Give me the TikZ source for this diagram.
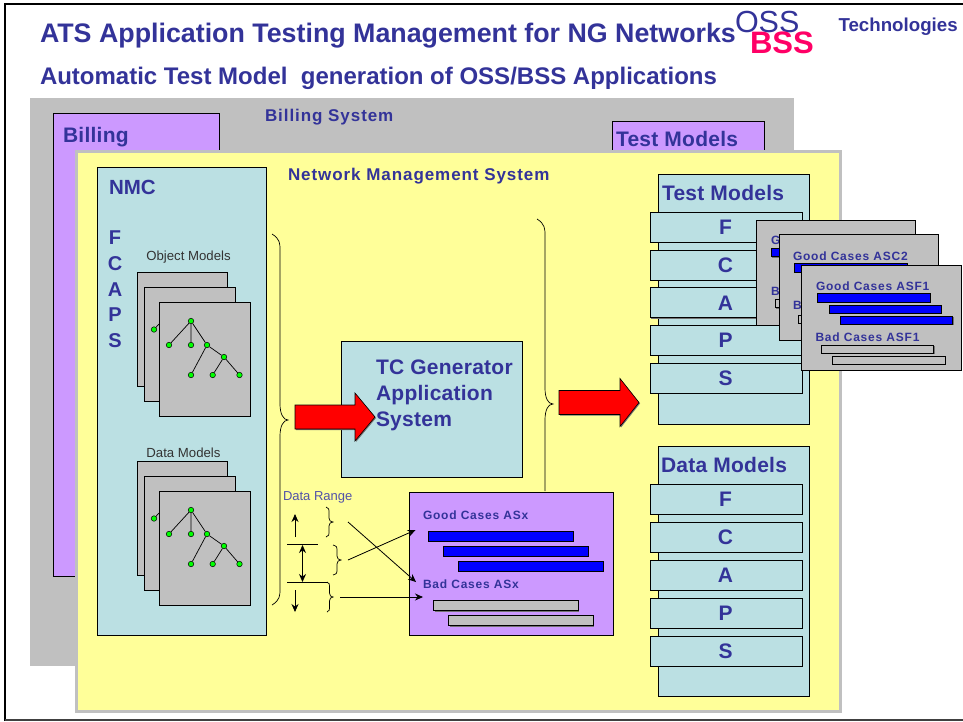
\documentclass[tikz,border=0pt]{standalone}
\usepackage{fontspec}
\setmainfont{Liberation Sans}
\newfontfamily\spc[LetterSpace=6.5]{Liberation Sans}
\newfontfamily\spcb[LetterSpace=1.2]{Liberation Sans}
\newfontfamily\spcm[LetterSpace=5.5]{Liberation Sans}
\usetikzlibrary{arrows.meta,shadows}
\definecolor{ink}{HTML}{333399}
\definecolor{teal}{HTML}{BBE0E3}
\definecolor{lilac}{HTML}{CC99FF}
\definecolor{butter}{HTML}{FFFF99}
\definecolor{sheetgray}{HTML}{C0C0C0}
\definecolor{pinkred}{HTML}{FF0066}
\definecolor{pure}{HTML}{0000FF}
\tikzset{
  shd/.style={drop shadow={shadow xshift=1pt,shadow yshift=-1pt,opacity=1,fill=black!55}},
  bxbase/.style={draw=black,line width=.8pt,inner sep=0pt,outer sep=0pt,anchor=north west},
  tealbox/.style={bxbase,fill=teal,shd},
  lilacbox/.style={bxbase,fill=lilac,shd},
  graybox/.style={bxbase,fill=sheetgray,shd},
  bluebar/.style={bxbase,fill=pure,shd},
  plainpanel/.style={inner sep=0pt,outer sep=0pt,anchor=north west,fill=sheetgray},
  yellowpanel/.style={inner sep=0pt,outer sep=0pt,anchor=north west,fill=butter,draw=sheetgray,line width=3pt},
  txt/.style={inner sep=0pt,outer sep=0pt,anchor=base west,text=ink},
  rowletter/.style={inner sep=0pt,anchor=center,text=ink,font=\fontsize{21}{24}\selectfont\bfseries},
  big/.style={txt,font=\fontsize{21}{24}\selectfont\bfseries\spcb},
  mid/.style={txt,font=\fontsize{17}{20}\selectfont\bfseries\spcm},
  sml/.style={txt,font=\fontsize{12}{14}\selectfont\bfseries\spc},
  leaf/.style={circle,draw=black,fill=green,line width=.5pt,minimum size=5.5pt,inner sep=0pt},
  treeedge/.style={black,line width=.7pt},
  thin arrow/.style={black,line width=.8pt,-{Stealth[length=8pt,width=7pt]}},
  both arrow/.style={black,line width=.8pt,{Stealth[length=8pt,width=7pt]}-{Stealth[length=8pt,width=7pt]}},
  brc/.style={black,line width=.7pt},
  redarrow/.style={draw=black,line width=.6pt,fill=red,shd}
}
\newcommand{\mybx}[6]{\node[#2,minimum width={((#5)-(#3))*1pt},minimum height={((#6)-(#4))*1pt}] (#1) at ({#3},{#4}) {};}
% brace: x-end, y-top, stem, tip, y-mid, y-bottom, radius
\newcommand{\mybrace}[7]{\draw[brc] (#1,#2) .. controls (#3,{#2+#7*.3}) and (#3,{#2+#7*.6}) .. (#3,{#2+#7}) -- (#3,{#5-#7}) .. controls (#3,{#5-#7*.4}) and ({#3+(#4-#3)*.4},#5) .. (#4,#5) .. controls ({#3+(#4-#3)*.4},#5) and (#3,{#5+#7*.4}) .. (#3,{#5+#7}) -- (#3,{#6-#7}) .. controls (#3,{#6-#7*.6}) and (#3,{#6-#7*.3}) .. (#1,#6);}
% tree with origin = root position; #1 prefix
\newcommand{\mytree}[3]{%
  \node[leaf] (#1r) at (#2,#3) {};
  \node[leaf] (#1a) at ({#2-22},{#3+24}) {};
  \node[leaf] (#1b) at (#2,{#3+24}) {};
  \node[leaf] (#1c) at ({#2+16},{#3+24}) {};
  \node[leaf] (#1d) at ({#2+33},{#3+36}) {};
  \node[leaf] (#1e) at (#2,{#3+54}) {};
  \node[leaf] (#1f) at ({#2+21.7},{#3+54}) {};
  \node[leaf] (#1g) at ({#2+48.5},{#3+54}) {};
  \draw[treeedge] (#1r)--(#1a) (#1r)--(#1b) (#1r)--(#1c) (#1c)--(#1d) (#1c)--(#1e) (#1d)--(#1f) (#1d)--(#1g);
}
% sheet bars
\newcommand{\mybars}[3]{%
  \mybx{#1a}{bluebar}{#2+16}{#3+28.5}{#2+129}{#3+37}
  \mybx{#1b}{bluebar}{#2+28}{#3+40}{#2+140}{#3+48}
  \mybx{#1c}{bluebar}{#2+39.5}{#3+51}{#2+151.5}{#3+59}
  \mybx{#1d}{graybox}{#2+20}{#3+80}{#2+132.7}{#3+88}
  \mybx{#1e}{graybox}{#2+31.5}{#3+91}{#2+144}{#3+99}
}
\newcommand{\myarrow}[7]{% name, x0, ymid, xneck, halfshaft, halfhead, tip
  \path[redarrow] (#2,{#3-#5}) -- (#4,{#3-#5}) -- (#4,{#3-#6}) -- (#7,#3) -- (#4,{#3+#6}) -- (#4,{#3+#5}) -- (#2,{#3+#5}) -- cycle;}
\begin{document}
\begin{tikzpicture}[x=1pt,y=-1pt]
\useasboundingbox (0,0) rectangle (963,721);
\fill[white] (0,0) rectangle (963,721);
\draw[black,line width=2.2pt] (5,721) -- (5,4) -- (963,4);
\draw[black!75,line width=1.5pt] (5,720) -- (963,720);
% titles
\node[txt,font=\fontsize{26.8}{30}\selectfont\bfseries] (title) at (40,42) {ATS Application Testing Management for NG Networks};
\node[txt,font=\fontsize{24}{27}\selectfont\bfseries] (subtitle) at (40,84) {Automatic Test Model\ \ generation of OSS/BSS Applications};
\node[txt,font=\fontsize{30.5}{32}\selectfont] (oss) at (735,32) {OSS};
\node[txt,text=pinkred,font=\fontsize{31}{32}\selectfont\bfseries] (bss) at (750,53) {BSS};
\node[txt,font=\fontsize{18.7}{20}\selectfont\bfseries] (tech) at (838.5,31) {Technologies};
% billing layer
\mybx{billingsys}{plainpanel}{30}{98}{794}{666}
\mybx{billing}{lilacbox}{53}{113}{219}{576}
\mybx{tmback}{lilacbox}{612.5}{121}{764}{200}
\node[big] (billinglbl) at (63,142) {Billing};
\node[mid] (billingsyslbl) at (265,121) {Billing System};
\node[big] (tmbacklbl) at (616,146) {Test Models};
% network management layer
\mybx{nms}{yellowpanel}{76}{151}{840}{711}
\node[mid] (nmslbl) at (288,180) {Network Management System};
% NMC
\mybx{nmc}{tealbox}{97}{167}{266}{635}
\node[txt,font=\fontsize{20.5}{22}\selectfont\bfseries] (nmclbl) at (109,194) {NMC};
\foreach \l/\yy/\nm in {F/238/f,C/264/c,A/290/a,P/315/p,S/341/s}
  \node[inner sep=0pt,text=ink,font=\fontsize{20}{24}\selectfont\bfseries] (fcaps\nm) at (115,\yy) {\l};
\node[inner sep=0pt,text=black!80,font=\fontsize{13.2}{14}\selectfont] (omlbl) at (188.5,257) {Object Models};
\mybx{oma}{graybox}{137}{272}{227}{386}
\mybx{omb}{graybox}{144}{287}{235}{401}
\node[leaf] (omx) at (154,329.5) {};
\coordinate (omxe) at (159,324);
\draw[treeedge] (omx) -- (omxe);
\mybx{omc}{graybox}{159}{302}{250}{416}
\mytree{ot}{191}{321}
\node[inner sep=0pt,text=black!80,font=\fontsize{13.2}{14}\selectfont] (dmlbl) at (183.5,453) {Data Models};
\mybx{dma}{graybox}{137}{461}{227}{575}
\mybx{dmb}{graybox}{144}{476}{235}{590}
\node[leaf] (dmx) at (154,518.5) {};
\coordinate (dmxe) at (159,513);
\draw[treeedge] (dmx) -- (dmxe);
\mybx{dmc}{graybox}{159}{491}{250}{605}
\mytree{dt}{191}{510}
% TC generator
\mybx{tc}{tealbox}{341}{341}{522}{477}
\node[big] (tca) at (376,374) {TC Generator};
\node[big] (tcb) at (376,400) {Application};
\node[big] (tcc) at (376,426) {System};
% braces
\mybrace{272}{234}{280}{288}{420}{605}{16}
\draw[brc] (537,219) .. controls (545,224) and (545,229) .. (545,235) -- (545,388) .. controls (545,398) and (548,404) .. (553,404) .. controls (548,404) and (545,410) .. (545,420) -- (545,491);
% red arrows
\myarrow{ra}{295}{417}{355}{12}{24}{375}
\myarrow{rb}{559}{402.5}{620}{12}{24}{639}
% purple cases
\mybx{cases}{lilacbox}{409}{492}{613}{635}
\node[sml] (goodlbl) at (423,519) {Good Cases ASx};
\mybx{ga}{bluebar}{428}{531}{573}{541}
\mybx{gb}{bluebar}{443}{546}{588}{556}
\mybx{gc}{bluebar}{458}{561}{603}{571}
\node[sml] (badlbl) at (423,588) {Bad Cases ASx};
\mybx{ba}{graybox}{433.5}{600.5}{578}{610.5}
\mybx{bb}{graybox}{448.5}{615.5}{593}{625.5}
% data range
\node[txt,text=ink!85,font=\fontsize{13}{14}\selectfont] (drlbl) at (283,500) {Data Range};
\coordinate (upa) at (295,537); \coordinate (upb) at (295,514);
\draw[thin arrow] (upa) -- (upb);
\coordinate (ln1a) at (287,544.5); \coordinate (ln1b) at (318,544.5);
\draw[black,line width=.8pt] (ln1a) -- (ln1b);
\coordinate (dba) at (302.5,545); \coordinate (dbb) at (302.5,582);
\draw[both arrow] (dba) -- (dbb);
\coordinate (ln2a) at (287,582); \coordinate (ln2b) at (328,582);
\draw[black,line width=.8pt] (ln2a) -- (ln2b);
\coordinate (dna) at (295,590); \coordinate (dnb) at (295,612);
\draw[thin arrow] (dna) -- (dnb);
\mybrace{326}{507}{329}{333}{522}{537}{4}
\mybrace{333}{545}{337}{341}{560}{575}{4}
\mybrace{327}{582}{329.5}{333}{597}{612}{4}
\coordinate (b1) at (348,522); \coordinate (b2) at (348,560); \coordinate (b3) at (340,597);
\coordinate (t1) at (416,582); \coordinate (t2) at (415.5,530); \coordinate (t3) at (423,597);
\draw[thin arrow] (b1) -- (t1);
\draw[thin arrow] (b2) -- (t2);
\draw[thin arrow] (b3) -- (t3);
% right: test models
\mybx{tm}{tealbox}{658}{174}{809}{424}
\node[big] (tmlbl) at (662,200) {Test Models};
\foreach \l/\yy in {F/212,C/250,A/287.5} {
  \mybx{tm\l}{tealbox}{650}{\yy}{802}{\yy+30}
  \node[rowletter] (tml\l) at (725.5,\yy+15.5) {\l};
}
% sheets
\mybx{sa}{graybox}{756}{220}{915}{325.5}
\node[sml] (saG) at (771,244) {G};
\node[sml] (saB) at (771,295) {B};
\mybars{sab}{755}{219.5}
\foreach \l/\yy in {P/325,S/363} {
  \mybx{tm\l}{tealbox}{650}{\yy}{802}{\yy+30}
  \node[rowletter] (tml\l) at (725.5,\yy+15.5) {\l};
}
\mybx{sb}{graybox}{779}{234}{938}{340}
\node[sml] (sblbl) at (793,260) {Good Cases ASC2};
\node[sml] (sbB) at (793,309) {B};
\mybars{sbb}{778}{235}
\mybx{sc}{graybox}{801.5}{265}{961}{370}
\node[sml] (sclbl) at (816,290.5) {Good Cases ASF1};
\node[sml] (sclb) at (815.5,341.5) {Bad Cases ASF1};
\mybars{scb}{801}{265}
% right: data models
\mybx{dm}{tealbox}{658}{446}{809}{696}
\node[big] (dmlbl2) at (661,472) {Data Models};
\foreach \l/\yy in {F/484,C/522,A/560,P/598,S/636} {
  \mybx{dm\l}{tealbox}{650}{\yy}{802}{\yy+30}
  \node[rowletter] (dml\l) at (725.5,\yy+15.5) {\l};
}
\end{tikzpicture}
\end{document}
